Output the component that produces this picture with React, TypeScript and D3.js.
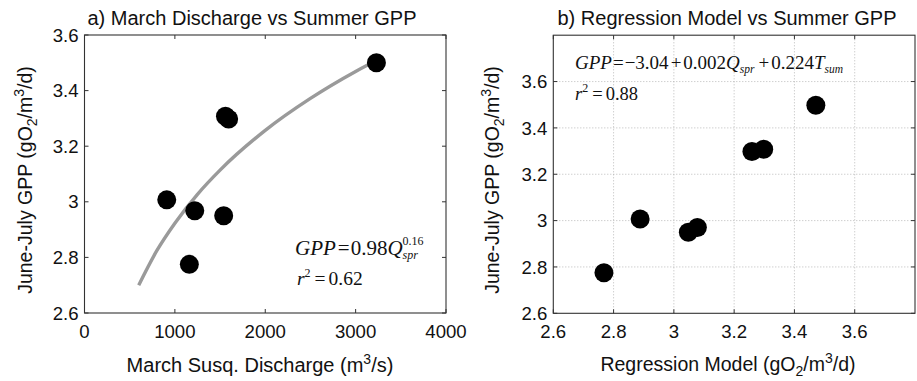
import React from "react";
import * as d3 from "d3";

// ---- Data ----
const dischargeQ = [3230, 1560, 1595, 910, 1220, 1540, 1160];
const gppA = [3.5, 3.308, 3.298, 3.007, 2.968, 2.95, 2.775];
const fitQ = [600, 800, 1000, 1250, 1500, 2000, 2500, 3000, 3300];
const fitGPP = [2.7, 2.824, 2.923, 3.027, 3.114, 3.257, 3.372, 3.469, 3.52];
const modelGPP = [2.768, 2.888, 3.048, 3.078, 3.259, 3.298, 3.471];
const gppB = [2.775, 3.007, 2.95, 2.97, 3.298, 3.308, 3.498];
const xTicksA = [0, 1000, 2000, 3000, 4000];
const yTicksA = [2.6, 2.8, 3.0, 3.2, 3.4, 3.6];
const xTicksB = [2.6, 2.8, 3.0, 3.2, 3.4, 3.6];
const yTicksB = [2.6, 2.8, 3.0, 3.2, 3.4, 3.6];

const W = 917;
const H = 381;
const SANS = "'Liberation Sans', Arial, Helvetica, sans-serif";
const SERIF = "'Liberation Serif', 'Times New Roman', serif";
const AX = "#333";
const TICK_FS = 18.6;

const fmt = (v: number) => (Number.isInteger(v) ? String(v) : String(+v.toFixed(1)));

function Frame({ x, y, xTicks, yTicks, grid }: any) {
  const [x0, x1] = x.range();
  const [y0, y1] = y.range(); // y0 bottom, y1 top
  const tl = 4;
  return (
    <g>
      {grid &&
        xTicks
          .filter((t: number) => x(t) > x0 + 1 && x(t) < x1 - 1)
          .map((t: number) => (
            <line key={"gx" + t} x1={x(t)} x2={x(t)} y1={y0} y2={y1} stroke="#aaa" strokeWidth={0.8} strokeDasharray="1,2" />
          ))}
      {grid &&
        yTicks
          .filter((t: number) => y(t) < y0 - 1 && y(t) > y1 + 1)
          .map((t: number) => (
            <line key={"gy" + t} x1={x0} x2={x1} y1={y(t)} y2={y(t)} stroke="#aaa" strokeWidth={0.8} strokeDasharray="1,2" />
          ))}
      {xTicks.map((t: number) => (
        <g key={"xt" + t}>
          <line x1={x(t)} x2={x(t)} y1={y0} y2={y0 - tl} stroke={AX} strokeWidth={1} />
          <line x1={x(t)} x2={x(t)} y1={y1} y2={y1 + tl} stroke={AX} strokeWidth={1} />
          <text x={x(t)} y={y0 + 24.5} textAnchor="middle" fontFamily={SANS} fontSize={TICK_FS} fill="#111">
            {fmt(t)}
          </text>
        </g>
      ))}
      {yTicks.map((t: number) => (
        <g key={"yt" + t}>
          <line x1={x0} x2={x0 + tl} y1={y(t)} y2={y(t)} stroke={AX} strokeWidth={1} />
          <line x1={x1} x2={x1 - tl} y1={y(t)} y2={y(t)} stroke={AX} strokeWidth={1} />
          <text x={x0 - 6} y={y(t) + 6.6} textAnchor="end" fontFamily={SANS} fontSize={TICK_FS} fill="#111">
            {fmt(t)}
          </text>
        </g>
      ))}
      <rect x={x0} y={y1} width={x1 - x0} height={y0 - y1} fill="none" stroke={AX} strokeWidth={1.1} />
    </g>
  );
}

function GppLabel({ cx, cy }: { cx: number; cy: number }) {
  return (
    <text transform={`translate(${cx},${cy}) rotate(-90)`} textAnchor="middle" fontFamily={SANS} fontSize={19.5} fill="#111">
      June-July GPP (gO
      <tspan dy={5} fontSize={14}>2</tspan>
      <tspan dy={-5}>/m</tspan>
      <tspan dy={-8} fontSize={14}>3</tspan>
      <tspan dy={8}>/d)</tspan>
    </text>
  );
}

export default function App() {
  const xA = d3.scaleLinear().domain([0, 4000]).range([84.5, 446]);
  const yA = d3.scaleLinear().domain([2.6, 3.6]).range([313, 35]);
  const xB = d3.scaleLinear().domain([2.6, 3.8]).range([553.3, 915]);
  const yB = d3.scaleLinear().domain([2.6, 3.8]).range([313.3, 35.2]);

  const fitLine = d3
    .line<number>()
    .x((_, i) => xA(fitQ[i]))
    .y((d) => yA(d))
    .curve(d3.curveMonotoneX)(fitGPP) as string;

  const R = 9.5;

  return (
    <svg width={W} height={H} style={{ position: "absolute", left: 0, top: 0, background: "#fff" }}>
      <rect width={W} height={H} fill="#fff" />

      {/* Panel a */}
      <text x={252} y={25} textAnchor="middle" fontFamily={SANS} fontSize={20} fill="#111">
        a) March Discharge vs Summer GPP
      </text>
      <Frame x={xA} y={yA} xTicks={xTicksA} yTicks={yTicksA} grid={false} />
      <path d={fitLine} fill="none" stroke="#9a9a9a" strokeWidth={3.4} />
      {dischargeQ.map((q, i) => (
        <circle key={"a" + i} cx={xA(q)} cy={yA(gppA[i])} r={R} fill="#000" />
      ))}
      <text x={295} y={255} fontFamily={SERIF} fontSize={21} fill="#111">
        <tspan fontStyle="italic">GPP</tspan>
        <tspan dx={2}>=</tspan>
        <tspan dx={1}>0.98</tspan>
        <tspan fontStyle="italic">Q</tspan>
        <tspan dy={-10} fontSize={12}>0.16</tspan>
        <tspan dx={-21} dy={14} fontSize={12} fontStyle="italic">spr</tspan>
      </text>
      <text x={297} y={285} fontFamily={SERIF} fontSize={19.5} fill="#111">
        <tspan fontStyle="italic">r</tspan>
        <tspan dy={-8} fontSize={12}>2</tspan>
        <tspan dx={4} dy={8}>=</tspan>
        <tspan dx={3}>0.62</tspan>
      </text>
      <text x={260} y={372} textAnchor="middle" fontFamily={SANS} fontSize={20} fill="#111">
        March Susq. Discharge (m
        <tspan dy={-8} fontSize={14}>3</tspan>
        <tspan dy={8}>/s)</tspan>
      </text>
      <GppLabel cx={32} cy={180} />

      {/* Panel b */}
      <text x={727} y={25} textAnchor="middle" fontFamily={SANS} fontSize={20} fill="#111">
        b) Regression Model vs Summer GPP
      </text>
      <Frame x={xB} y={yB} xTicks={xTicksB} yTicks={yTicksB} grid={true} />
      {modelGPP.map((m, i) => (
        <circle key={"b" + i} cx={xB(m)} cy={yB(gppB[i])} r={R} fill="#000" />
      ))}
      <text x={575} y={69} fontFamily={SERIF} fontSize={19} fill="#111">
        <tspan fontStyle="italic">GPP</tspan>
        <tspan dx={1}>=</tspan>
        <tspan dx={1}>−3.04</tspan>
        <tspan dx={2}>+</tspan>
        <tspan dx={2}>0.002</tspan>
        <tspan fontStyle="italic">Q</tspan>
        <tspan dy={4} fontSize={11.5} fontStyle="italic">spr</tspan>
        <tspan dx={4} dy={-4}>+</tspan>
        <tspan dx={2}>0.224</tspan>
        <tspan fontStyle="italic">T</tspan>
        <tspan dy={4} fontSize={11.5} fontStyle="italic">sum</tspan>
      </text>
      <text x={575} y={100} fontFamily={SERIF} fontSize={18.5} fill="#111">
        <tspan fontStyle="italic">r</tspan>
        <tspan dy={-8} fontSize={12}>2</tspan>
        <tspan dx={4} dy={8}>=</tspan>
        <tspan dx={3}>0.88</tspan>
      </text>
      <text x={728} y={371} textAnchor="middle" fontFamily={SANS} fontSize={19.5} fill="#111">
        Regression Model (gO
        <tspan dy={5} fontSize={14}>2</tspan>
        <tspan dy={-5}>/m</tspan>
        <tspan dy={-8} fontSize={14}>3</tspan>
        <tspan dy={8}>/d)</tspan>
      </text>
      <GppLabel cx={499} cy={180} />
    </svg>
  );
}
